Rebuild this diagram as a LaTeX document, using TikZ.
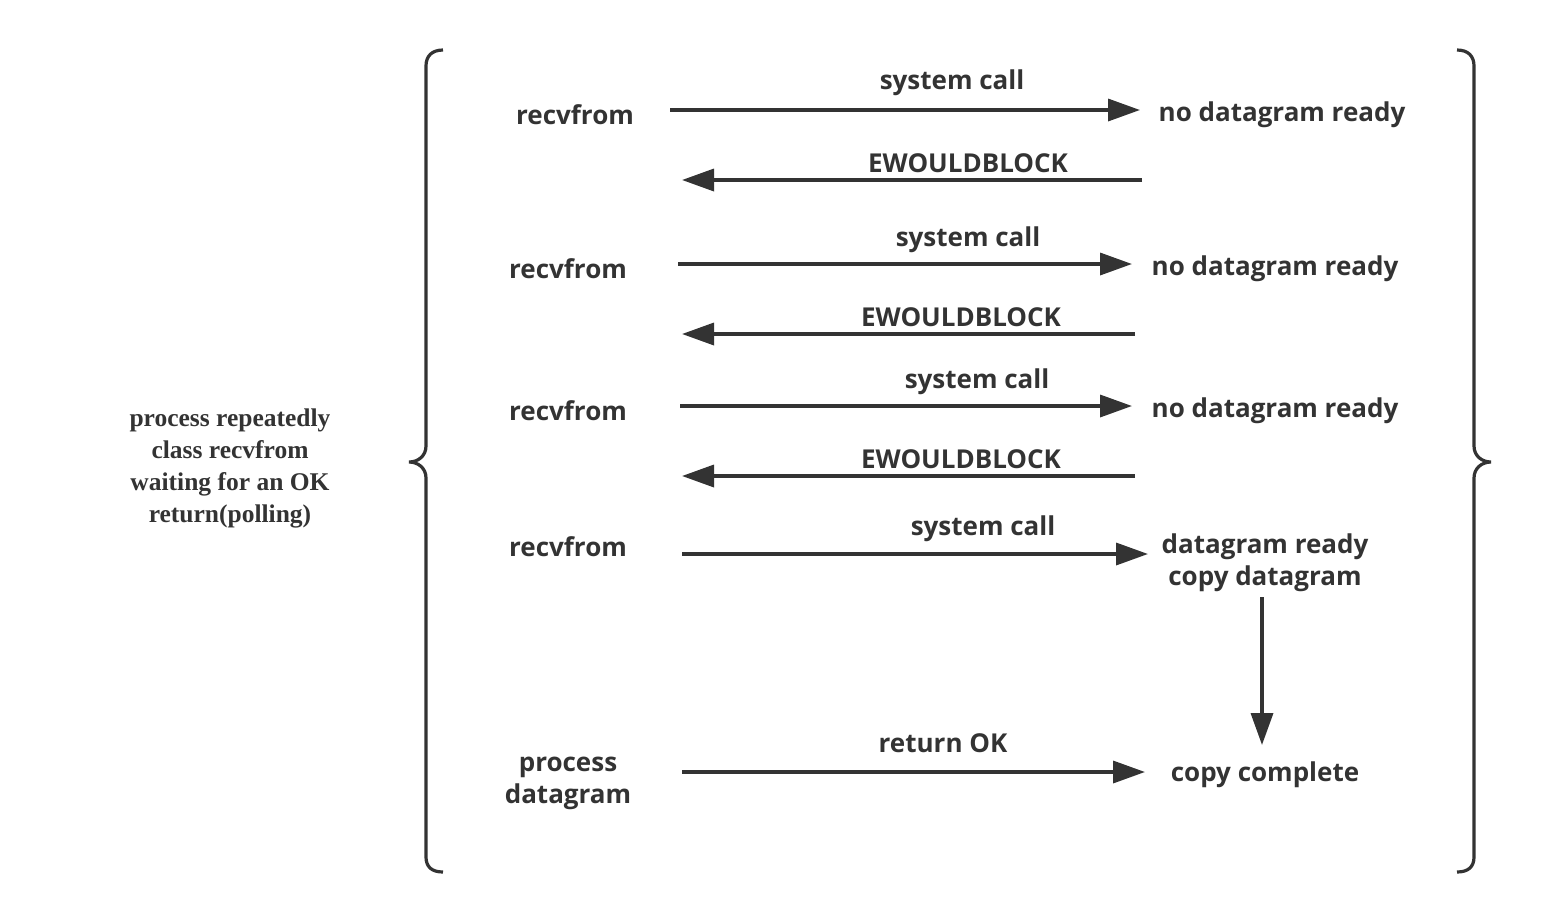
\documentclass[tikz,border=0pt]{standalone}
\usepackage{fontspec}
\usetikzlibrary{arrows.meta}
\newfontfamily\lblfont{Open Sans}
\newfontfamily\notefont{Liberation Serif}
\definecolor{ink}{HTML}{333333}

\tikzset{
  lbl/.style={text=ink, font=\lblfont\bfseries\fontsize{26}{32}\selectfont, align=center, inner sep=0pt, yshift=-3pt},
  note/.style={text=ink, font=\notefont\bfseries\fontsize{25.5}{32}\selectfont, align=center, inner sep=0pt, yshift=-3pt},
  msg/.style={draw=ink, line width=3.5pt, -{Triangle[length=32pt,width=22pt]}},
  curly/.style={draw=ink, line width=3.2pt}
}

\begin{document}
\begin{tikzpicture}[x=1pt,y=-1pt]
\useasboundingbox (0,0) rectangle (1542,922);

% left side
\node[note] (poll) at (230,465) {process repeatedly\\class recvfrom\\waiting for an OK\\return(polling)};

\draw[curly] (443,50) .. controls (432,50) and (426,56) .. (426,66) -- (426,446)
  .. controls (426,456) and (418,462) .. (409,462)
  .. controls (418,462) and (426,468) .. (426,478) -- (426,857)
  .. controls (426,867) and (432,872) .. (443,872);
\draw[curly] (1457,50) .. controls (1468,50) and (1474,56) .. (1474,66) -- (1474,446)
  .. controls (1474,456) and (1482,462) .. (1491,462)
  .. controls (1482,462) and (1474,468) .. (1474,478) -- (1474,857)
  .. controls (1474,867) and (1468,872) .. (1457,872);

% first call
\node[lbl] (r1) at (575,112) {recvfrom};
\node[lbl] (k1) at (1282,112) {no datagram ready};
\node[lbl] (c1) at (952,80) {system call};
\node[lbl] (e1) at (968,160) {EWOULDBLOCK};
\coordinate (a1) at (670,110);
\coordinate (b1) at (1140,110);
\coordinate (a1r) at (1142,180);
\coordinate (b1r) at (682,180);
\draw[msg] (a1) -- (b1);
\draw[msg] (a1r) -- (b1r);

% second call
\node[lbl] (r2) at (568,266) {recvfrom};
\node[lbl] (k2) at (1275,266) {no datagram ready};
\node[lbl] (c2) at (968,237) {system call};
\node[lbl] (e2) at (961,314) {EWOULDBLOCK};
\coordinate (a2) at (678,264);
\coordinate (b2) at (1132,264);
\coordinate (a2r) at (1135,334);
\coordinate (b2r) at (682,334);
\draw[msg] (a2) -- (b2);
\draw[msg] (a2r) -- (b2r);

% third call
\node[lbl] (r3) at (568,408) {recvfrom};
\node[lbl] (k3) at (1275,408) {no datagram ready};
\node[lbl] (c3) at (977,379) {system call};
\node[lbl] (e3) at (961,456) {EWOULDBLOCK};
\coordinate (a3) at (680,406);
\coordinate (b3) at (1132,406);
\coordinate (a3r) at (1135,476);
\coordinate (b3r) at (682,476);
\draw[msg] (a3) -- (b3);
\draw[msg] (a3r) -- (b3r);

% fourth call
\node[lbl] (r4) at (568,544) {recvfrom};
\node[lbl] (k4) at (1265,560) {datagram ready\\copy datagram};
\node[lbl] (c4) at (983,526) {system call};
\coordinate (a4) at (682,554);
\coordinate (b4) at (1148,554);
\draw[msg] (a4) -- (b4);

% copy and return
\node[lbl] (pd) at (568,780) {process\\datagram};
\node[lbl] (done) at (1265,772) {copy complete};
\node[lbl] (ok) at (943,740) {return OK};
\coordinate (a5) at (682,772);
\coordinate (b5) at (1145,772);
\draw[msg] (a5) -- (b5);
\coordinate (d1) at (1262,597);
\coordinate (d2) at (1262,745);
\draw[msg] (d1) -- (d2);

\end{tikzpicture}
\end{document}
